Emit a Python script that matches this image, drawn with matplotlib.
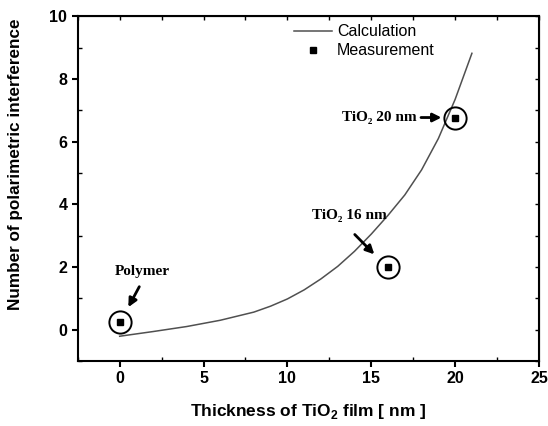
import numpy as np
import matplotlib.pyplot as plt

plt.rcParams['font.family'] = ['Liberation Sans', 'DejaVu Sans']
plt.rcParams['mathtext.fontset'] = 'custom'
plt.rcParams['mathtext.rm'] = 'Liberation Sans'
plt.rcParams['mathtext.bf'] = 'Liberation Sans:bold'

# curve
calc_x = [0, 2, 4, 6, 8, 9, 10, 11, 12, 13, 14, 15, 16, 17, 18, 19, 20, 21]
calc_y = [-0.21, -0.06, 0.1, 0.3, 0.56, 0.75, 0.98, 1.27, 1.62, 2.02, 2.5, 3.05,
          3.65, 4.3, 5.1, 6.1, 7.35, 8.82]

# measured points
meas_x = [0, 16, 20]
meas_y = [0.24, 2.0, 6.77]
meas_labels = ['Polymer', 'TiO₂ 16 nm', 'TiO₂ 20 nm']

fig = plt.figure(figsize=(5.48, 4.26), dpi=100)
ax = fig.add_axes([0.1418, 0.1526, 0.8418, 0.8091])

ax.plot(calc_x, calc_y, color='#505050', lw=1.1, label='Calculation')
ax.plot(meas_x, meas_y, 's', color='black', ms=5, label='Measurement')
ax.plot(meas_x, meas_y, 'o', mfc='none', mec='black', ms=16, mew=1.4)

serif = dict(family='Liberation Serif', fontweight='bold', fontsize=11)
arrow = dict(arrowstyle='-|>,head_length=0.5,head_width=0.25', color='black', lw=2)

# Polymer
ax.text(1.34, 1.87, meas_labels[0], ha='center', va='center', **serif)
ax.annotate('', xy=(0.44, 0.64), xytext=(1.25, 1.45), arrowprops=arrow)
# 16 nm
ax.text(13.7, 3.65, meas_labels[1], ha='center', va='center', **serif)
ax.annotate('', xy=(15.3, 2.34), xytext=(13.9, 3.1), arrowprops=arrow)
# 20 nm
ax.text(17.7, 6.77, meas_labels[2], ha='right', va='center', **serif)
ax.annotate('', xy=(19.35, 6.77), xytext=(17.8, 6.77), arrowprops=arrow)

ax.set_xlim(-2.5, 25)
ax.set_ylim(-1, 10)
ax.set_xticks([0, 5, 10, 15, 20, 25])
ax.set_xticks(np.arange(-2.5, 25.1, 2.5), minor=True)
ax.set_yticks([0, 2, 4, 6, 8, 10])
ax.set_yticks(np.arange(-1, 10.1, 1), minor=True)

for s in ax.spines.values():
    s.set_linewidth(1.5)
ax.tick_params(which='major', direction='out', length=4, width=1.5, labelsize=11.5)
ax.tick_params(which='minor', direction='in', length=3, width=1)
for t in ax.get_xticklabels() + ax.get_yticklabels():
    t.set_fontweight('bold')

top = ax.secondary_xaxis('top')
top.set_xticks(np.arange(-2.5, 25.1, 2.5))
top.tick_params(direction='in', length=3, width=1, labeltop=False)
right = ax.secondary_yaxis('right')
right.set_yticks(np.arange(-1, 10.1, 1))
right.tick_params(direction='in', length=3, width=1, labelright=False)

ax.set_xlabel(r'Thickness of TiO$_\mathbf{2}$ film [ nm ]', fontsize=12.5, fontweight='bold')
ax.xaxis.set_label_coords(0.5, -0.12)
ax.set_ylabel('Number of polarimetric interference', fontsize=12.3, fontweight='bold')
ax.yaxis.set_label_coords(-0.118, 0.57)

ax.legend(loc='upper left', bbox_to_anchor=(0.455, 0.995), frameon=False, fontsize=11.5,
          handlelength=2.4, handletextpad=0.3, labelspacing=0.25, borderaxespad=0)

fig.savefig('out.png', dpi=100)
